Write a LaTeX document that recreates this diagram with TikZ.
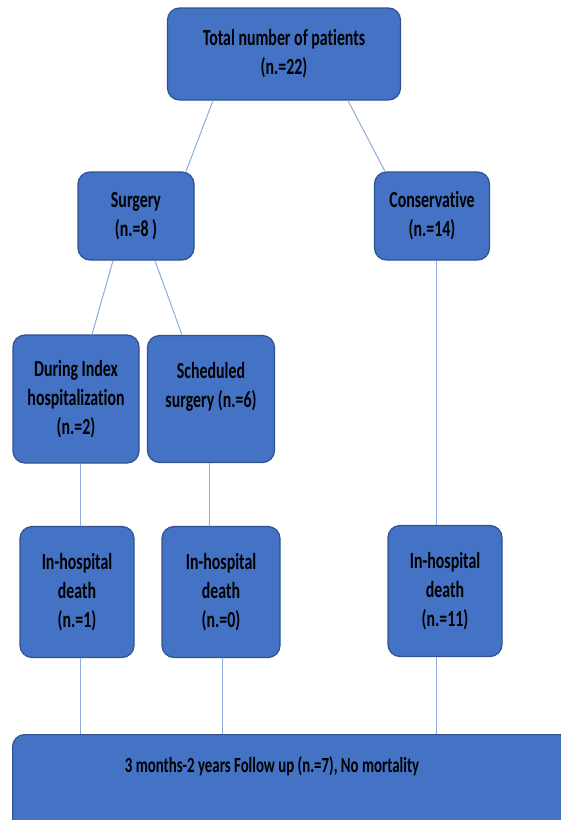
\documentclass[tikz,border=0pt]{standalone}
\usepackage{fontspec}
\newfontfamily\boxfont{Carlito}[FakeStretch=0.69, Ligatures=NoCommon]
\usetikzlibrary{positioning}
\definecolor{boxblue}{HTML}{4472C4}
\definecolor{boxedge}{HTML}{2F528F}
\definecolor{linkblue}{HTML}{8FAADC}
\tikzstyle{bluebox} = [rectangle, rounded corners=12pt, align=center, draw=boxedge, line width=1.2pt, fill=boxblue, text=black, font=\boxfont\bfseries\fontsize{23}{29}\selectfont]
\tikzstyle{link} = [draw=linkblue, line width=1pt]

\begin{document}
\begin{tikzpicture}[x=1pt, y=1pt, node distance=162pt]
\useasboundingbox (0,0) rectangle (561,-820);

% All patients
\node (T) [bluebox, minimum width=233pt, minimum height=92pt] at (284,-54) {Total number of patients\\(n.=22)};

% Treatment
\node (S) [bluebox, below of=T, xshift=-148pt, minimum width=116pt, minimum height=88pt] {Surgery\\(n.=8 )};
\node (C) [bluebox, below of=T, xshift=148pt, minimum width=115pt, minimum height=88pt] {Conservative\\(n.=14)};

% Timing of surgery
\node (D) [bluebox, below of=S, yshift=-21pt, xshift=-60pt, minimum width=126pt, minimum height=128pt] {During Index\\hospitalization\\(n.=2)};
\node (Sch) [bluebox, below of=S, yshift=-21pt, xshift=75pt, minimum width=127pt, minimum height=127pt] {Scheduled\\surgery (n.=6)\\~};

% In-hospital deaths
\node (I1) [bluebox, below of=D, yshift=-31pt, xshift=1pt, minimum width=114pt, minimum height=131pt] {In-hospital\\death\\(n.=1)};
\node (I0) [bluebox, below of=Sch, yshift=-31pt, xshift=10pt, minimum width=118pt, minimum height=131pt] {In-hospital\\death\\(n.=0)};
\node (I11) [bluebox, below of=C, yshift=-213pt, xshift=13pt, minimum width=114pt, minimum height=131pt] {In-hospital\\death\\(n.=11)};

% Follow up
\node (F) [bluebox, anchor=north west, minimum width=570pt, minimum height=130pt] at (12,-734) {};
\node (Ft) [font=\boxfont\bfseries\fontsize{21.5}{29}\selectfont] at (272,-766) {3 months-2 years Follow up (n.=7), No mortality};

% Connecting lines
\draw [link] ([xshift=-71pt]T.south) -- ([xshift=50pt]S.north);
\draw [link] ([xshift=64pt]T.south) -- ([xshift=-47pt]C.north);
\draw [link] ([xshift=-23pt]S.south) -- ([xshift=16pt]D.north);
\draw [link] ([xshift=19pt]S.south) -- ([xshift=-29pt]Sch.north);
\draw [link] ([xshift=4pt]D.south) -- ([xshift=3pt]I1.north);
\draw [link] ([xshift=-2pt]Sch.south) -- ([xshift=-12pt]I0.north);
\draw [link] ([xshift=4pt]C.south) -- ([xshift=-9pt]I11.north);
\draw [link] ([xshift=3pt]I1.south) -- ([xshift=3pt]I1.south |- F.north);
\draw [link] ([xshift=1pt]I0.south) -- ([xshift=1pt]I0.south |- F.north);
\draw [link] ([xshift=-9pt]I11.south) -- ([xshift=-9pt]I11.south |- F.north);

\end{tikzpicture}
\end{document}
